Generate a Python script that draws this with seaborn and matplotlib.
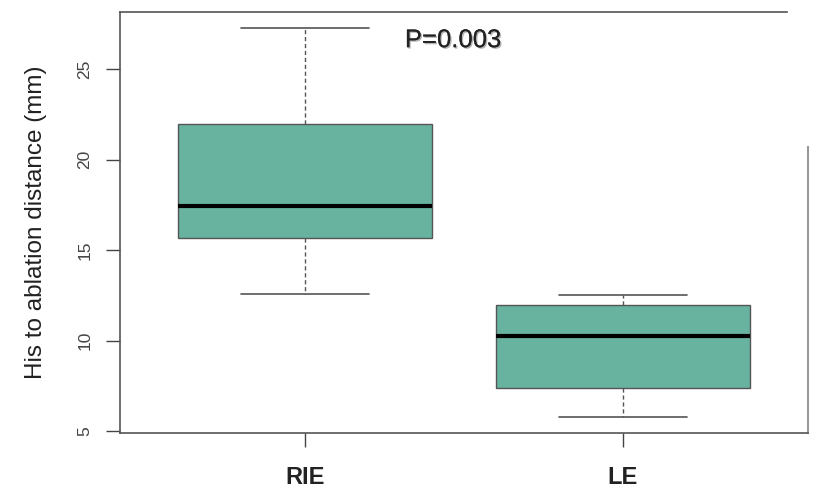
import matplotlib
matplotlib.use("Agg")
import matplotlib.pyplot as plt
import matplotlib.patheffects as pe
import seaborn as sns
import pandas as pd

# Data (five-number summaries: min, Q1, median, Q3, max)
groups = ["RIE", "LE"]
rie_values = [12.55, 15.65, 17.45, 21.95, 27.3]
le_values = [5.75, 7.4, 10.25, 11.95, 12.5]
y_ticks = [5, 10, 15, 20, 25]
p_label = "P=0.003"

df = pd.DataFrame({
    "group": ["RIE"] * len(rie_values) + ["LE"] * len(le_values),
    "value": rie_values + le_values,
})

sns.set_theme(style="white")
plt.rcParams["font.family"] = ["Liberation Sans", "DejaVu Sans"]

fig = plt.figure(figsize=(8.2, 4.91), dpi=100)
ax = fig.add_axes([0.1463, 0.1181, 0.839, 0.8575])

sns.boxplot(
    data=df, x="group", y="value", order=groups, ax=ax,
    color="#67b3a0", saturation=1, width=0.8, whis=1.5,
    linecolor="#444444", linewidth=1.0,
    boxprops=dict(edgecolor="#555555", linewidth=1.0),
    whiskerprops=dict(linestyle=(0, (3, 2)), color="#555555", linewidth=1.0),
    capprops=dict(color="#555555", linewidth=1.2),
    medianprops=dict(color="black", linewidth=3),
    showfliers=False,
)

ax.set_ylim(4.89, 28.16)
ax.set_xlim(-0.582, 1.582)
ax.set_yticks(y_ticks)
ax.set_yticklabels([str(t) for t in y_ticks], rotation=90, va="center",
                   fontsize=12.5, color="#444444")
ax.set_xticks([0, 1])
ax.set_xticklabels(groups, fontsize=17, color="#222222", fontweight="bold")
ax.tick_params(axis="y", length=10, width=1.0, color="#444444", pad=10, left=True)
ax.tick_params(axis="x", length=10, width=1.0, color="#444444", pad=14,
               bottom=True, direction="out")
ax.set_xlabel("")
ax.set_ylabel("His to ablation distance (mm)", fontsize=17.5, color="#222222",
              labelpad=22)

for side in ["left", "bottom", "top"]:
    ax.spines[side].set_color("#555555")
    ax.spines[side].set_linewidth(1.2)
ax.spines["top"].set_bounds(-0.582, 1.516)
ax.spines["right"].set_color("#999999")
ax.spines["right"].set_linewidth(1.5)
ax.spines["right"].set_bounds(4.89, 20.69)

ax.text(0.314, 26.6, p_label, fontsize=18.5, color="#222222", ha="left",
        va="center",
        path_effects=[pe.withSimplePatchShadow(offset=(1, -1), alpha=0.3),
                      pe.Normal()])

fig.savefig("out.png", dpi=100)
